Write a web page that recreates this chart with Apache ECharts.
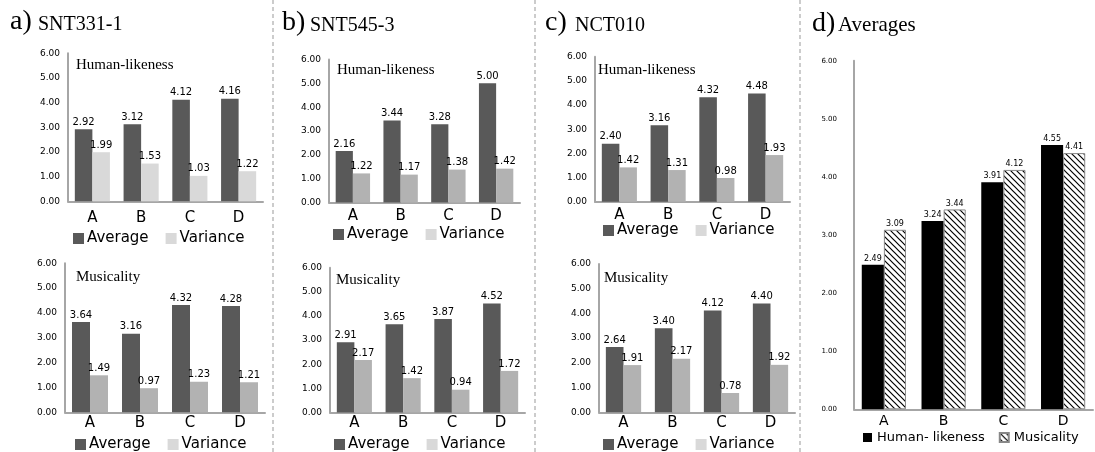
<!DOCTYPE html>
<html><head><meta charset="utf-8">
<script src="https://cdn.jsdelivr.net/npm/echarts@6/dist/echarts.min.js"></script>
<style>html,body{margin:0;padding:0;background:#fff}#c{width:1095px;height:452px}</style>
</head><body><div id="c"></div>
<script>
// ---- data ----
const categories = ['A', 'B', 'C', 'D'];
const yMin = 0, yMax = 6, yStep = 1;

const aHumanAvg = [2.92, 3.12, 4.12, 4.16];
const aHumanVar = [1.99, 1.53, 1.03, 1.22];
const aMusAvg   = [3.64, 3.16, 4.32, 4.28];
const aMusVar   = [1.49, 0.97, 1.23, 1.21];

const bHumanAvg = [2.16, 3.44, 3.28, 5.00];
const bHumanVar = [1.22, 1.17, 1.38, 1.42];
const bMusAvg   = [2.91, 3.65, 3.87, 4.52];
const bMusVar   = [2.17, 1.42, 0.94, 1.72];

const cHumanAvg = [2.40, 3.16, 4.32, 4.48];
const cHumanVar = [1.42, 1.31, 0.98, 1.93];
const cMusAvg   = [2.64, 3.40, 4.12, 4.40];
const cMusVar   = [1.91, 2.17, 0.78, 1.92];

const dHuman = [2.49, 3.24, 3.91, 4.55];
const dMusic = [3.09, 3.44, 4.12, 4.41];

// ---- styles ----
const SANS = 'DejaVu Sans';
const SERIF = 'Liberation Serif';
const AVG_COLOR = '#595959';
const VAR_LIGHT = '#d9d9d9';
const VAR_MED = '#b2b2b2';
const AXIS_COLOR = '#a6a6a6';

function hatch() {
  const c = document.createElement('canvas');
  c.width = 6; c.height = 6;
  const ctx = c.getContext('2d');
  ctx.fillStyle = '#fff'; ctx.fillRect(0, 0, 6, 6);
  ctx.strokeStyle = '#000'; ctx.lineWidth = 1.2;
  ctx.beginPath();
  ctx.moveTo(-1, -1); ctx.lineTo(7, 7);
  ctx.moveTo(5, -1); ctx.lineTo(7, 1);
  ctx.moveTo(-1, 5); ctx.lineTo(1, 7);
  ctx.stroke();
  return c;
}
const hatchPattern = { image: hatch(), repeat: 'repeat' };

// grid boxes (pixels)
const grids = [
  { left: 68,  top: 53.3,  width: 195, height: 148 },   // a top
  { left: 65,  top: 263.3, width: 200, height: 149 },   // a bottom
  { left: 329, top: 59.5,  width: 191, height: 143 },   // b top
  { left: 330, top: 267.7, width: 195, height: 144.7 }, // b bottom
  { left: 595, top: 56.7,  width: 195, height: 145 },   // c top
  { left: 599, top: 264,   width: 196, height: 148.3 }, // c bottom
  { left: 854, top: 60.7,  width: 239, height: 348.6 }  // d
];
const catMargin = [9, 3, 6, 3, 6, 3, 5];

const xAxes = grids.map((g, i) => ({
  type: 'category', gridIndex: i, data: categories,
  axisTick: { show: false },
  axisLine: { lineStyle: { color: AXIS_COLOR, width: 2 } },
  axisLabel: { color: '#000', fontFamily: SANS, fontSize: i === 6 ? 14 : 15, margin: catMargin[i] }
}));
const yAxes = grids.map((g, i) => ({
  type: 'value', gridIndex: i, min: yMin, max: yMax, interval: yStep,
  splitLine: { show: false },
  axisTick: { show: false },
  axisLine: { show: true, lineStyle: { color: AXIS_COLOR, width: 2 } },
  axisLabel: { color: '#000', fontFamily: SANS, fontSize: i === 6 ? 7 : 9, margin: i === 6 ? 17 : 8,
               formatter: v => v.toFixed(2) }
}));

function valLabel(size) {
  return { show: true, position: 'top', distance: 2, color: '#000', fontFamily: SANS, fontSize: size,
           formatter: p => p.value.toFixed(2) };
}
function pair(i, avg, vr, varColor) {
  return [
    { type: 'bar', name: 'Average', xAxisIndex: i, yAxisIndex: i, data: avg,
      barGap: '0%', barCategoryGap: '28%', itemStyle: { color: AVG_COLOR }, label: valLabel(10) },
    { type: 'bar', name: 'Variance', xAxisIndex: i, yAxisIndex: i, data: vr,
      barGap: '0%', barCategoryGap: '28%', itemStyle: { color: varColor }, label: valLabel(10) }
  ];
}
const series = [].concat(
  pair(0, aHumanAvg, aHumanVar, VAR_LIGHT),
  pair(1, aMusAvg, aMusVar, VAR_MED),
  pair(2, bHumanAvg, bHumanVar, VAR_MED),
  pair(3, bMusAvg, bMusVar, VAR_MED),
  pair(4, cHumanAvg, cHumanVar, VAR_MED),
  pair(5, cMusAvg, cMusVar, VAR_MED),
  [
    { type: 'bar', name: 'Human- likeness', xAxisIndex: 6, yAxisIndex: 6, data: dHuman,
      barGap: '0%', barCategoryGap: '26%', itemStyle: { color: '#000' }, label: valLabel(8) },
    { type: 'bar', name: 'Musicality', xAxisIndex: 6, yAxisIndex: 6, data: dMusic,
      barGap: '0%', barCategoryGap: '26%',
      itemStyle: { color: hatchPattern, borderColor: '#888', borderWidth: 1 }, label: valLabel(8) }
  ]
);

const legendPos = [
  { left: 68, top: 226 }, { left: 70, top: 432 },
  { left: 328, top: 222 }, { left: 329, top: 432 },
  { left: 598, top: 218 }, { left: 598, top: 432 }
];
const legends = legendPos.map(p => ({
  left: p.left, top: p.top, itemWidth: 11, itemHeight: 11, itemGap: 17,
  icon: 'rect', selectedMode: false,
  textStyle: { fontFamily: SANS, fontSize: 15, color: '#000', padding: [0, 0, 0, -2] },
  data: [{ name: 'Average', itemStyle: { color: AVG_COLOR } },
         { name: 'Variance', itemStyle: { color: VAR_LIGHT } }]
}));
legends.push({
  left: 858, top: 426, itemWidth: 9, itemHeight: 9, itemGap: 14, icon: 'rect', selectedMode: false,
  textStyle: { fontFamily: SANS, fontSize: 13, color: '#000' },
  data: ['Human- likeness', 'Musicality']
});

const titles = [
  [10, 'a)', 38, 'SNT331-1', 31],
  [282, 'b)', 310, 'SNT545-3', 32],
  [545, 'c)', 575, 'NCT010', 32],
  [812, 'd)', 838, 'Averages', 33]
];
const graphics = [];
titles.forEach(t => {
  const big = 28, small = t[3] === 'Averages' ? 21 : 20;
  graphics.push({ type: 'text', x: t[0], y: t[4] - 0.3375 * big, silent: true,
    style: { text: t[1], fontFamily: SERIF, fontSize: big, fill: '#000', verticalAlign: 'middle' } });
  graphics.push({ type: 'text', x: t[2], y: t[4] - 0.3375 * small, silent: true,
    style: { text: t[3], fontFamily: SERIF, fontSize: small, fill: '#000', verticalAlign: 'middle' } });
});
const subs = [
  [76, 65, 'Human-likeness'], [76, 277, 'Musicality'],
  [337, 70, 'Human-likeness'], [336, 280, 'Musicality'],
  [598, 70, 'Human-likeness'], [604, 278, 'Musicality']
];
subs.forEach(s => graphics.push({ type: 'text', x: s[0], y: s[1], silent: true,
  style: { text: s[2], fontFamily: SERIF, fontSize: 15, fill: '#000', verticalAlign: 'middle' } }));
[273, 535, 800].forEach(x => graphics.push({ type: 'line', silent: true,
  shape: { x1: x, y1: 0, x2: x, y2: 452 },
  style: { stroke: '#999', lineWidth: 1, lineDash: [4, 3] } }));

const chart = echarts.init(document.getElementById('c'), null, { renderer: 'canvas' });
chart.setOption({
  animation: false,
  backgroundColor: '#fff',
  grid: grids.map(g => Object.assign({ containLabel: false }, g)),
  xAxis: xAxes,
  yAxis: yAxes,
  legend: legends,
  series: series,
  graphic: graphics
});
</script></body></html>
